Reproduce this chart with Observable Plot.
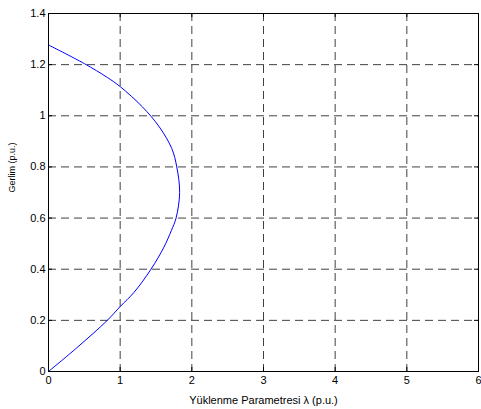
<!DOCTYPE html>
<html>
<head>
<meta charset="utf-8">
<script src="https://cdn.jsdelivr.net/npm/d3@7"></script>
<script src="https://cdn.jsdelivr.net/npm/@observablehq/plot@0.6"></script>
<style>
  html, body { margin: 0; padding: 0; background: #fff; }
  svg { display: block; }
</style>
</head>
<body>
<div id="chart"></div>
<script>
const lambda = [0, 0.40, 0.82, 1.0, 1.195, 1.43, 1.61, 1.715, 1.78, 1.83, 1.79, 1.72, 1.545, 1.31, 1.0, 0.82, 0.50, 0];
const voltage = [0, 0.094, 0.20, 0.254, 0.31, 0.40, 0.486, 0.552, 0.60, 0.70, 0.80, 0.872, 0.957, 1.035, 1.114, 1.15, 1.204, 1.277];
const xTicks = [0, 1, 2, 3, 4, 5, 6];
const yTicks = [0, 0.2, 0.4, 0.6, 0.8, 1, 1.2, 1.4];
const xLabel = "Yüklenme Parametresi λ (p.u.)";
const yLabel = "Gerlim (p.u.)";

const data = lambda.map((l, i) => ({l, v: voltage[i]}));

const chart = Plot.plot({
  width: 481,
  height: 409,
  marginLeft: 48,
  marginRight: 3,
  marginTop: 13,
  marginBottom: 38,
  style: {fontFamily: "'Liberation Sans', Arial, sans-serif", fontSize: "11px", color: "#000", background: "#fff"},
  x: {domain: [0, 6]},
  y: {domain: [0, 1.4]},
  marks: [
    Plot.gridX(xTicks, {stroke: "#000", strokeOpacity: 0.75, strokeDasharray: "8,5"}),
    Plot.gridY(yTicks, {stroke: "#000", strokeOpacity: 0.75, strokeDasharray: "8,5"}),
    Plot.ruleX(xTicks, {x: d => d, y1: 0, y2: 0.016, stroke: "#000"}),
    Plot.ruleX(xTicks, {x: d => d, y1: 1.384, y2: 1.4, stroke: "#000"}),
    Plot.ruleY(yTicks, {y: d => d, x1: 0, x2: 0.056, stroke: "#000"}),
    Plot.ruleY(yTicks, {y: d => d, x1: 5.944, x2: 6, stroke: "#000"}),
    Plot.line(data, {x: "l", y: "v", stroke: "#0000ff", strokeWidth: 1, curve: "catmull-rom"}),
    Plot.frame({stroke: "#000", strokeWidth: 1}),
    Plot.axisX(xTicks, {tickSize: 0, tickPadding: 5, fontSize: 11, label: null}),
    Plot.axisY(yTicks, {tickSize: 0, tickPadding: 3, fontSize: 11, label: null, tickFormat: d => String(d)}),
    Plot.text([xLabel], {frameAnchor: "bottom", dy: 32, fontSize: 11, text: d => d}),
    Plot.text([yLabel], {frameAnchor: "left", dx: -36, rotate: -90, fontSize: 9, text: d => d})
  ]
});
document.getElementById("chart").appendChild(chart);
</script>
</body>
</html>
